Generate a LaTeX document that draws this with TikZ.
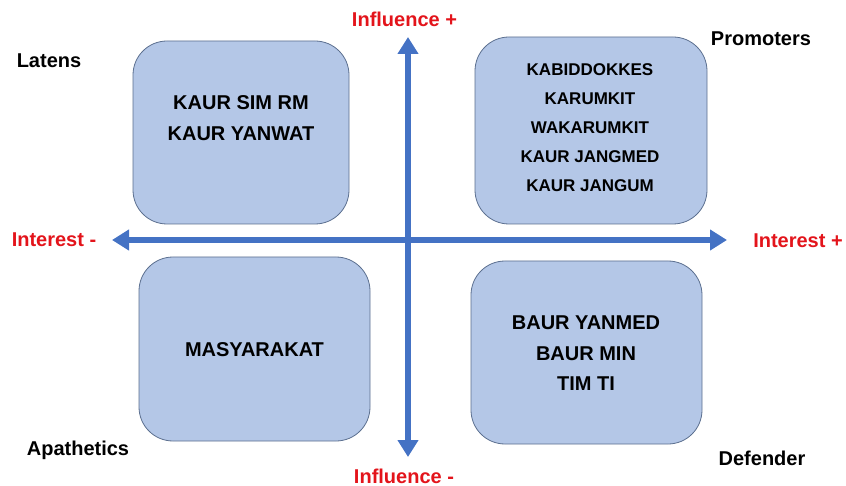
\documentclass[tikz,border=0pt]{standalone}
\usepackage{fontspec}
\setmainfont{Liberation Sans}
\usetikzlibrary{arrows.meta}

\definecolor{quadfill}{HTML}{B4C7E7}
\definecolor{quadedge}{HTML}{5B6F8F}
\definecolor{axisblue}{HTML}{4472C4}
\definecolor{axisred}{HTML}{E3141B}

\tikzset{
  quad/.style={draw=quadedge, line width=0.8pt, fill=quadfill, rounded corners=34pt},
  names/.style={font=\fontsize{20}{30.5}\selectfont\bfseries, align=center},
  smallnames/.style={font=\fontsize{17}{29}\selectfont\bfseries, align=center},
  corner/.style={font=\fontsize{20}{24}\selectfont\bfseries, anchor=base},
  axislabel/.style={corner, text=axisred},
  axis/.style={draw=axisblue, line width=6pt,
    {Triangle[width=20pt,length=17pt]}-{Triangle[width=20pt,length=17pt]}}
}

\begin{document}
\begin{tikzpicture}[x=1pt,y=-1pt]
  \useasboundingbox (0,0) rectangle (846,486);

  % quadrants
  \node[quad, minimum width=216pt, minimum height=183pt] (latensbox) at (241,132.5) {};
  \node[quad, minimum width=232pt, minimum height=187pt] (promobox) at (591,130.5) {};
  \node[quad, minimum width=231pt, minimum height=184pt] (apabox) at (254.5,349) {};
  \node[quad, minimum width=231pt, minimum height=183pt] (defbox) at (586.5,352.5) {};

  \node[names] (latenslist) at (241,118) {KAUR SIM RM\\KAUR YANWAT};
  \node[smallnames] (promolist) at (590,128) {KABIDDOKKES\\KARUMKIT\\WAKARUMKIT\\KAUR JANGMED\\KAUR JANGUM};
  \node[names] (apalist) at (254.5,350) {MASYARAKAT};
  \node[names] (deflist) at (586,353.5) {BAUR YANMED\\BAUR MIN\\TIM TI};

  % axes
  \coordinate (west) at (112,240);
  \coordinate (east) at (727,240);
  \coordinate (north) at (408,37);
  \coordinate (south) at (408,457);
  \draw[axis] (west) -- (east);
  \draw[axis] (south) -- (north);

  \node[axislabel] (inflplus) at (404.5,27) {Influence +};
  \node[axislabel] (inflminus) at (404,483) {Influence -};
  \node[axislabel] (intminus) at (54,247) {Interest -};
  \node[axislabel] (intplus) at (798,248) {Interest +};

  \node[corner] (latens) at (49,68) {Latens};
  \node[corner] (promoters) at (761,46) {Promoters};
  \node[corner] (apathetics) at (78,455) {Apathetics};
  \node[corner] (defender) at (762,465) {Defender};
\end{tikzpicture}
\end{document}
